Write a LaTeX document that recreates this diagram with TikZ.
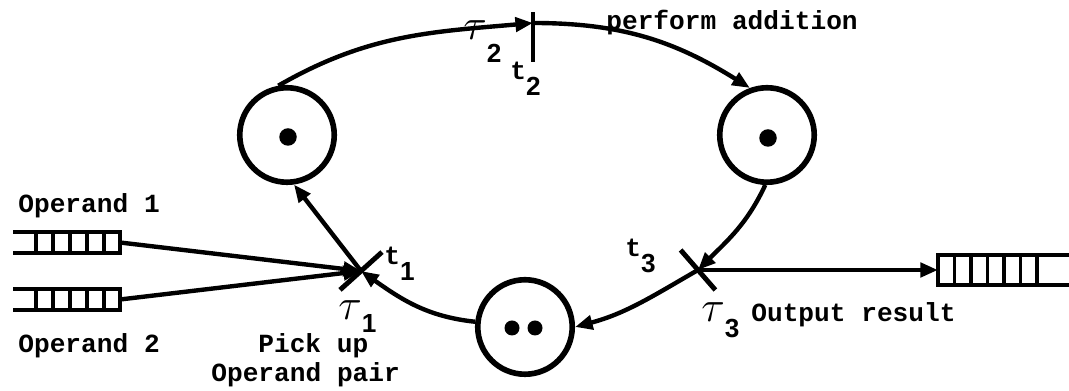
\documentclass[tikz,border=0pt]{standalone}
\usepackage{fontspec}
\setmonofont{Liberation Mono}
\newfontfamily\digitfont{Liberation Sans}
\usetikzlibrary{arrows.meta}
\newcommand{\lowsub}[2][9pt]{\raisebox{-#1}{\digitfont #2}}
\newcommand{\bigtau}{{\fontsize{24}{26}\selectfont$\tau$}}

\begin{document}
\begin{tikzpicture}[
        x=0.02cm, y=0.02cm,
        lbl/.style={font=\ttfamily\bfseries\fontsize{14.9}{17}\selectfont,
                    inner sep=0pt, anchor=base west},
        place/.style={circle, draw, line width=3.2pt, minimum size=1.89cm, inner sep=0pt},
        token/.style={circle, fill, inner sep=0pt, minimum size=0.35cm},
        bar/.style={rectangle, fill, inner sep=0pt, minimum height=2.8pt},
        arc/.style={line width=2.5pt, -{Triangle[length=10pt, width=8pt]}},
        queue/.style={line width=2.4pt},
        slot/.style={line width=1.8pt}
    ]
        \useasboundingbox (0,0) rectangle (1069,391);

        % places
        \node[place] (P1) at (287,256) {};
        \node[place] (P2) at (767,256) {};
        \node[place] (P3) at (525,64) {};
        \node[token] (m1) at (288,254) {};
        \node[token] (m2) at (768,253) {};
        \node[token, minimum size=0.3cm] (m3) at (512,63) {};
        \node[token, minimum size=0.3cm] (m4) at (535,63) {};

        % transitions
        \coordinate (t1) at (361,120);
        \coordinate (t2) at (533,368);
        \coordinate (t3) at (698,121);
        \node[bar, minimum width=1.13cm, rotate=42] (t1bar) at (t1) {};
        \node[bar, minimum width=1.0cm, rotate=90] (t2bar) at (533,354) {};
        \node[bar, minimum width=1.06cm, rotate=-49] (t3bar) at (t3) {};

        % queues
        \foreach \yq in {148.5, 91.5} {
            \draw[queue] (13,\yq+10.5) -- (120,\yq+10.5) -- (120,\yq-10.5) -- (13,\yq-10.5);
            \foreach \xq in {36,53,...,104}
                \draw[slot] (\xq,\yq+10.5) -- (\xq,\yq-10.5);
        }
        \draw[queue] (1069,136) -- (938,136) -- (938,106) -- (1069,106);
        \foreach \xq in {954.5,971,...,1037}
            \draw[slot] (\xq,136) -- (\xq,106);
        \coordinate (q1) at (120,148.5);
        \coordinate (q2) at (120,91.5);
        \coordinate (q3) at (938,121);

        % arcs
        \draw[arc] (q1) -- (t1);
        \draw[arc] (q2) -- (t1);
        \draw[arc] (P3) to[out=174, in=-35] (t1);
        \draw[arc] (t1) -- (P1.-82);
        \draw[arc] (P1.100) to[out=30, in=185] (t2);
        \draw[arc] (t2) to[out=0, in=148] (P2.110);
        \draw[arc] (P2.-92) to[out=-115, in=45] (t3);
        \draw[arc] (t3) to[out=-150, in=15] (P3.0);
        \draw[arc] (t3) -- (q3);

        % labels
        \node[lbl] (ladd) at (606,361) {perform addition};
        \node[lbl] (lop1) at (18,178) {Operand 1};
        \node[lbl] (lop2) at (18,38) {Operand 2};
        \node[lbl] (lpick) at (258,38) {Pick up};
        \node[lbl] (lpair) at (211,9) {Operand pair};
        \node[lbl] (lout) at (751,69) {Output result};
        \node[lbl] (lt1) at (384,126) {t\lowsub{1}};
        \node[lbl] (lt2) at (510,311) {t\lowsub{2}};
        \node[lbl] (lt3) at (625,134) {t\lowsub{3}};
        \node[lbl] (ltau1) at (338,71) {\bigtau\lowsub[7pt]{1}};
        \node[lbl] (ltau2) at (463,351) {\bigtau\lowsub[13pt]{2}};
        \node[lbl] (ltau3) at (701,69) {\bigtau\lowsub{3}};
\end{tikzpicture}
\end{document}
